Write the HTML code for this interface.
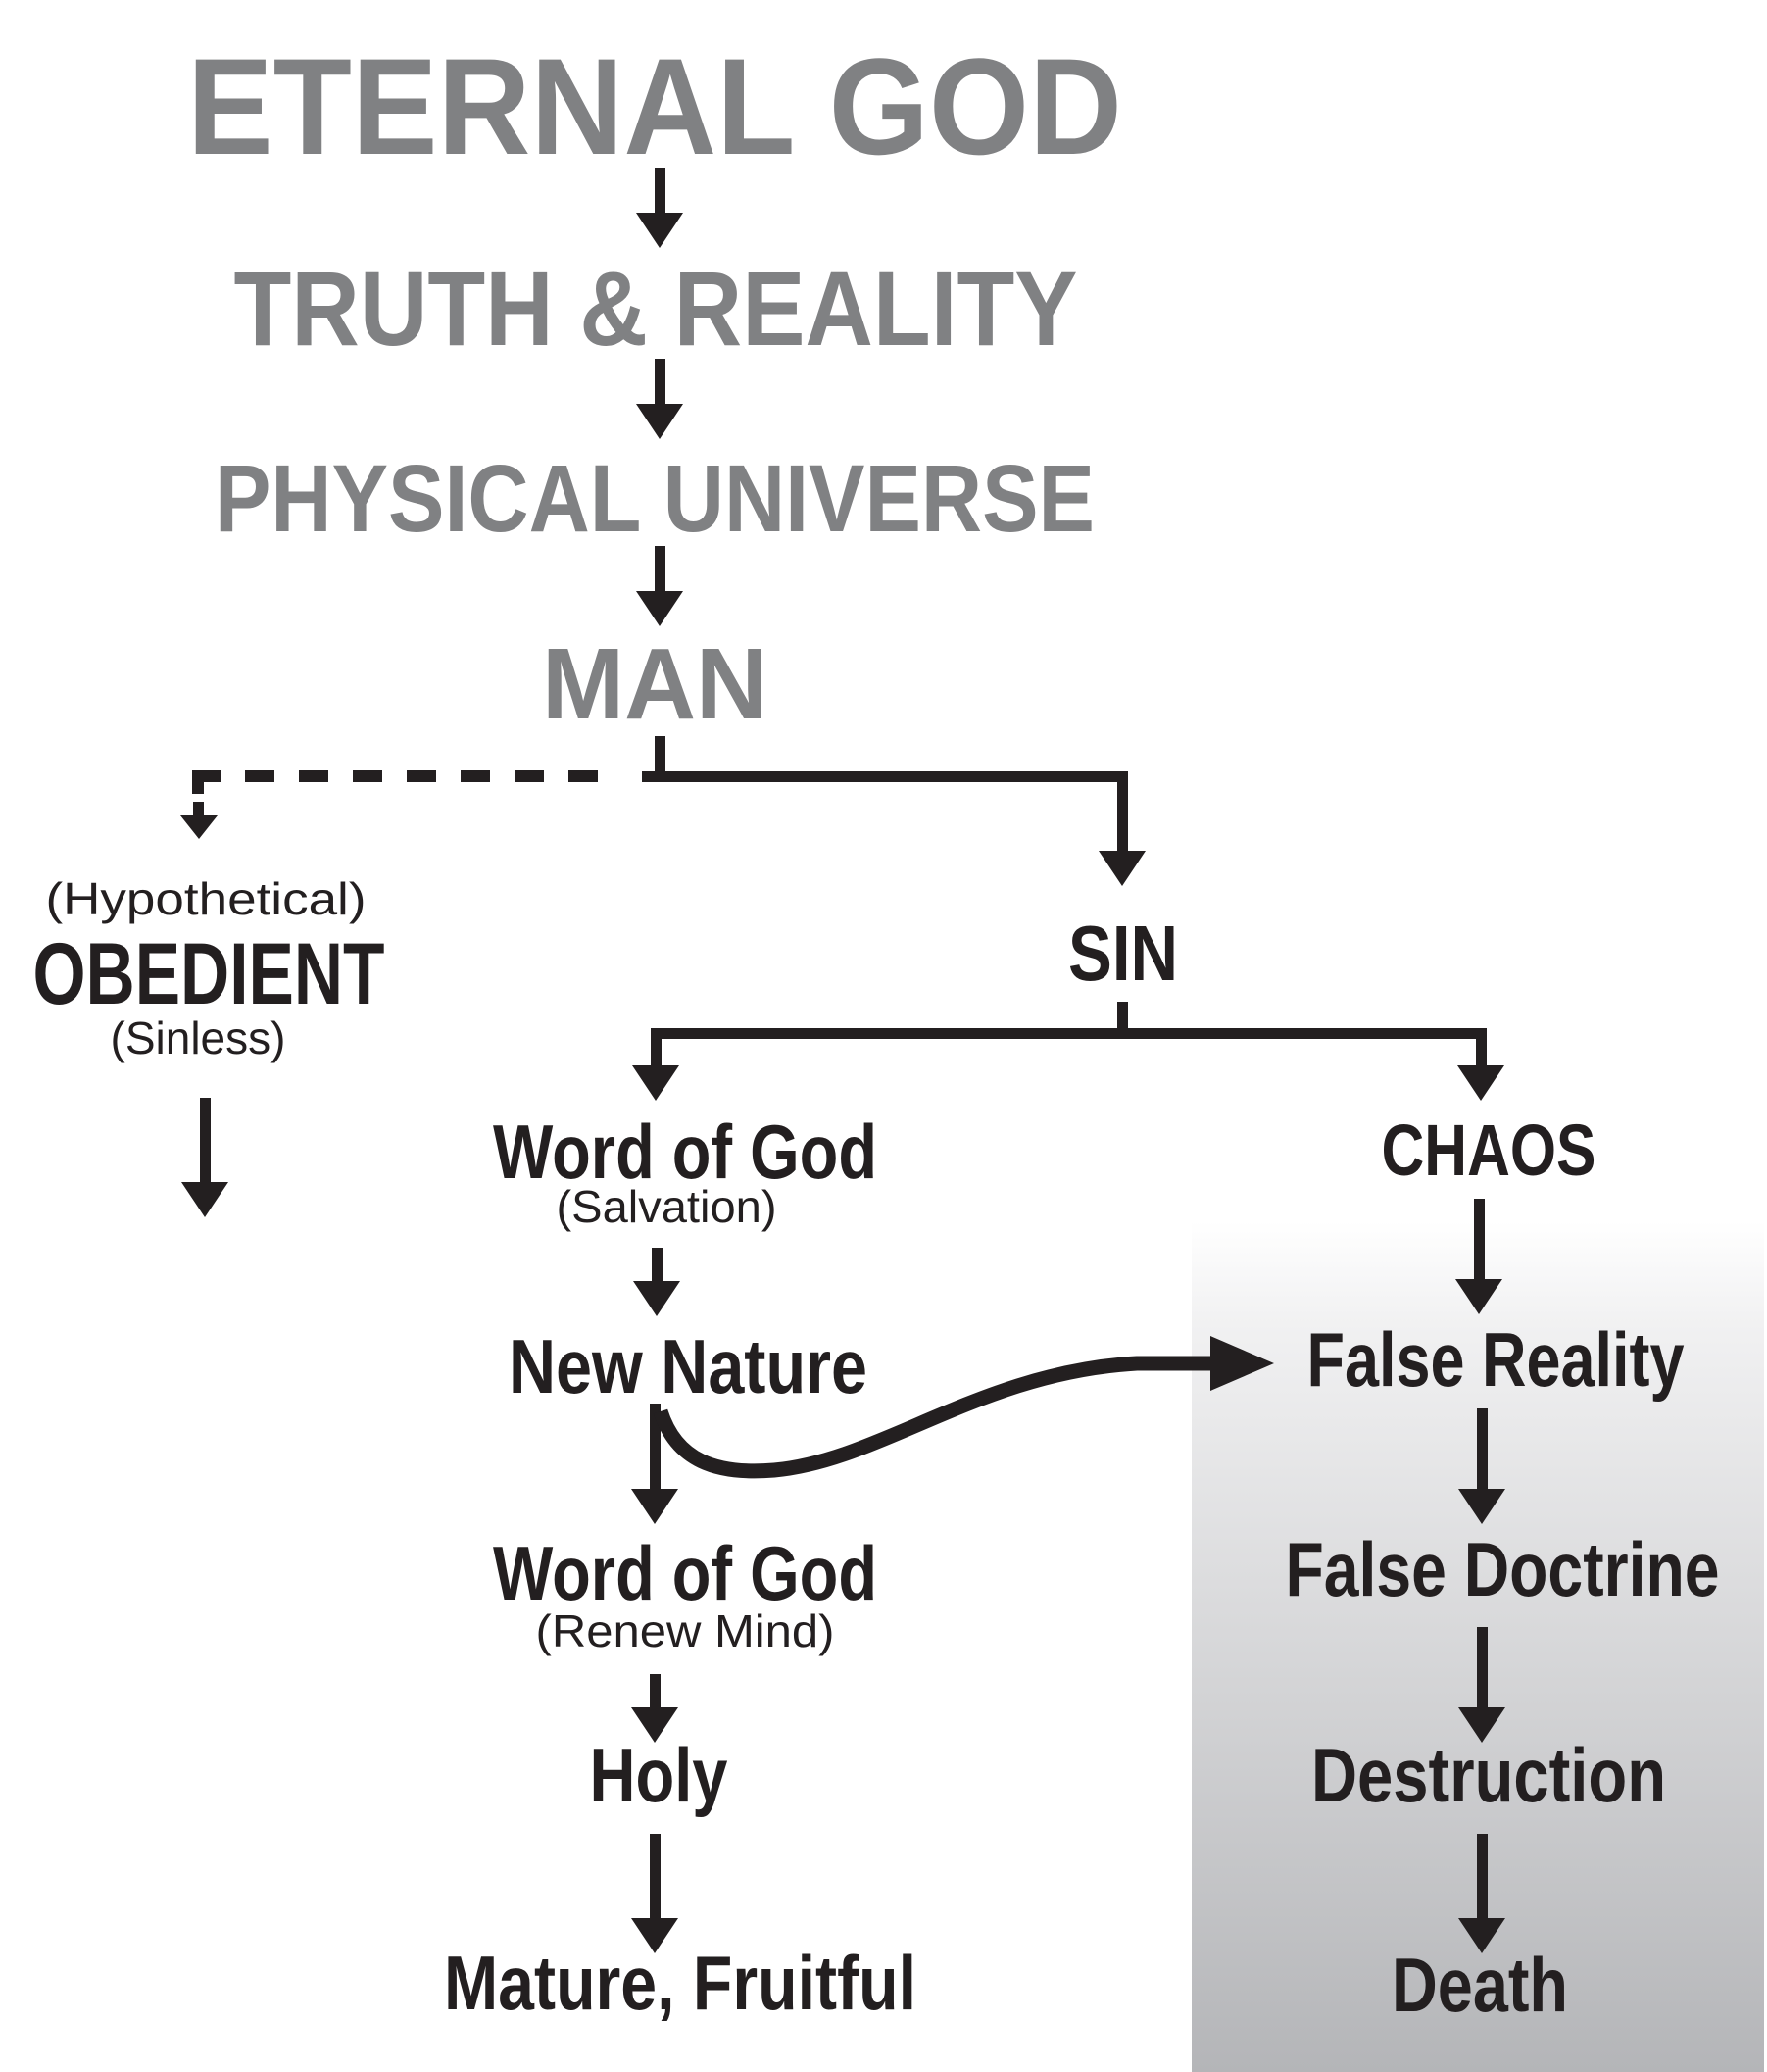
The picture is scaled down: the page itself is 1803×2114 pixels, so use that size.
<!DOCTYPE html>
<html><head><meta charset="utf-8"><style>html,body{margin:0;padding:0;background:#fff}svg{display:block}</style></head>
<body>
<svg width="1803" height="2114" viewBox="0 0 1803 2114" xmlns="http://www.w3.org/2000/svg">
<defs>
<linearGradient id="g" x1="0" y1="0" x2="0" y2="1">
<stop offset="0" stop-color="#ffffff"/>
<stop offset="0.12" stop-color="#f1f1f2"/>
<stop offset="1" stop-color="#b4b5b8"/>
</linearGradient>
</defs>
<rect x="1216" y="1246" width="584" height="868" fill="url(#g)"/>
<g font-family="Liberation Sans, sans-serif" font-weight="bold" fill="#808183" text-anchor="middle">
<text x="668" y="157" font-size="140" textLength="954" lengthAdjust="spacingAndGlyphs">ETERNAL GOD</text>
<text x="669" y="352" font-size="108" textLength="861" lengthAdjust="spacingAndGlyphs">TRUTH &amp; REALITY</text>
<text x="668" y="542" font-size="97" textLength="898" lengthAdjust="spacingAndGlyphs">PHYSICAL UNIVERSE</text>
<text x="668" y="733" font-size="103" textLength="230" lengthAdjust="spacingAndGlyphs">MAN</text>
</g>
<g font-family="Liberation Sans, sans-serif" fill="#231f20" text-anchor="middle">
<text x="210" y="933" font-size="46" textLength="327" lengthAdjust="spacingAndGlyphs">(Hypothetical)</text>
<text x="213" y="1024" font-size="89" font-weight="bold" textLength="359" lengthAdjust="spacingAndGlyphs">OBEDIENT</text>
<text x="202" y="1075" font-size="46" textLength="179" lengthAdjust="spacingAndGlyphs">(Sinless)</text>
<text x="1146" y="1000" font-size="80" font-weight="bold" textLength="112" lengthAdjust="spacingAndGlyphs">SIN</text>
<text x="699" y="1202" font-size="78" font-weight="bold" textLength="392" lengthAdjust="spacingAndGlyphs">Word of God</text>
<text x="680" y="1247" font-size="46" textLength="225" lengthAdjust="spacingAndGlyphs">(Salvation)</text>
<text x="702" y="1421" font-size="78" font-weight="bold" textLength="366" lengthAdjust="spacingAndGlyphs">New Nature</text>
<text x="699" y="1632" font-size="78" font-weight="bold" textLength="392" lengthAdjust="spacingAndGlyphs">Word of God</text>
<text x="699" y="1680" font-size="46" textLength="305" lengthAdjust="spacingAndGlyphs">(Renew Mind)</text>
<text x="672" y="1838" font-size="78" font-weight="bold" textLength="141" lengthAdjust="spacingAndGlyphs">Holy</text>
<text x="694" y="2050" font-size="78" font-weight="bold" textLength="482" lengthAdjust="spacingAndGlyphs">Mature, Fruitful</text>
<text x="1519" y="1199" font-size="74" font-weight="bold" textLength="219" lengthAdjust="spacingAndGlyphs">CHAOS</text>
<text x="1526" y="1414" font-size="78" font-weight="bold" textLength="385" lengthAdjust="spacingAndGlyphs">False Reality</text>
<text x="1533" y="1628" font-size="78" font-weight="bold" textLength="443" lengthAdjust="spacingAndGlyphs">False Doctrine</text>
<text x="1519" y="1838" font-size="78" font-weight="bold" textLength="362" lengthAdjust="spacingAndGlyphs">Destruction</text>
<text x="1510" y="2052" font-size="78" font-weight="bold" textLength="180" lengthAdjust="spacingAndGlyphs">Death</text>
</g>
<g fill="#231f20">
<path d="M668,171 h11 v46 h18 l-24,36 l-24,-36 h19z"/>
<path d="M668,366 h11 v46 h18 l-24,36 l-24,-36 h19z"/>
<path d="M668,557 h11 v46 h18 l-24,36 l-24,-36 h19z"/>
<path d="M204,1120 h11 v86 h18 l-24,36 l-24,-36 h19z"/>
<path d="M665,1273 h11 v34 h18 l-24,36 l-24,-36 h19z"/>
<path d="M663,1708 h11 v34 h18 l-24,36 l-24,-36 h19z"/>
<path d="M663,1871 h11 v86 h18 l-24,36 l-24,-36 h19z"/>
<path d="M1504,1223 h11 v82 h18 l-24,36 l-24,-36 h19z"/>
<path d="M1507,1437 h11 v82 h18 l-24,36 l-24,-36 h19z"/>
<path d="M1507,1660 h11 v82 h18 l-24,36 l-24,-36 h19z"/>
<path d="M1507,1871 h11 v86 h18 l-24,36 l-24,-36 h19z"/>
<rect x="668" y="751" width="11" height="46"/>
<rect x="655" y="787" width="496" height="11"/>
<path d="M1140,787 h11 v81 h18 l-24,36 l-24,-36 h19z"/>
<rect x="196" y="786" width="30" height="12"/>
<rect x="196" y="786" width="12" height="24"/>
<rect x="250" y="786" width="30" height="12"/>
<rect x="305" y="786" width="30" height="12"/>
<rect x="360" y="786" width="30" height="12"/>
<rect x="415" y="786" width="30" height="12"/>
<rect x="470" y="786" width="30" height="12"/>
<rect x="525" y="786" width="30" height="12"/>
<rect x="580" y="786" width="30" height="12"/>
<path d="M197,818 h11 v14 h14 l-19,24 l-19,-24 h13z"/>
<rect x="1140" y="1022" width="11" height="38"/>
<rect x="664" y="1049" width="853" height="11"/>
<path d="M664,1049 h11 v38 h18 l-24,36 l-24,-36 h19z"/>
<path d="M1506,1049 h11 v38 h18 l-24,36 l-24,-36 h19z"/>
<path d="M663,1432 h11 v87 h18 l-24,36 l-24,-36 h19z"/>
</g>
<path d="M674,1440 C690,1490 730,1505 790,1500 C900,1490 1000,1400 1160,1391 L1240,1391" fill="none" stroke="#231f20" stroke-width="15"/>
<path d="M1235,1363 L1300,1391 L1235,1419 Z" fill="#231f20"/>
</svg>
</body></html>
